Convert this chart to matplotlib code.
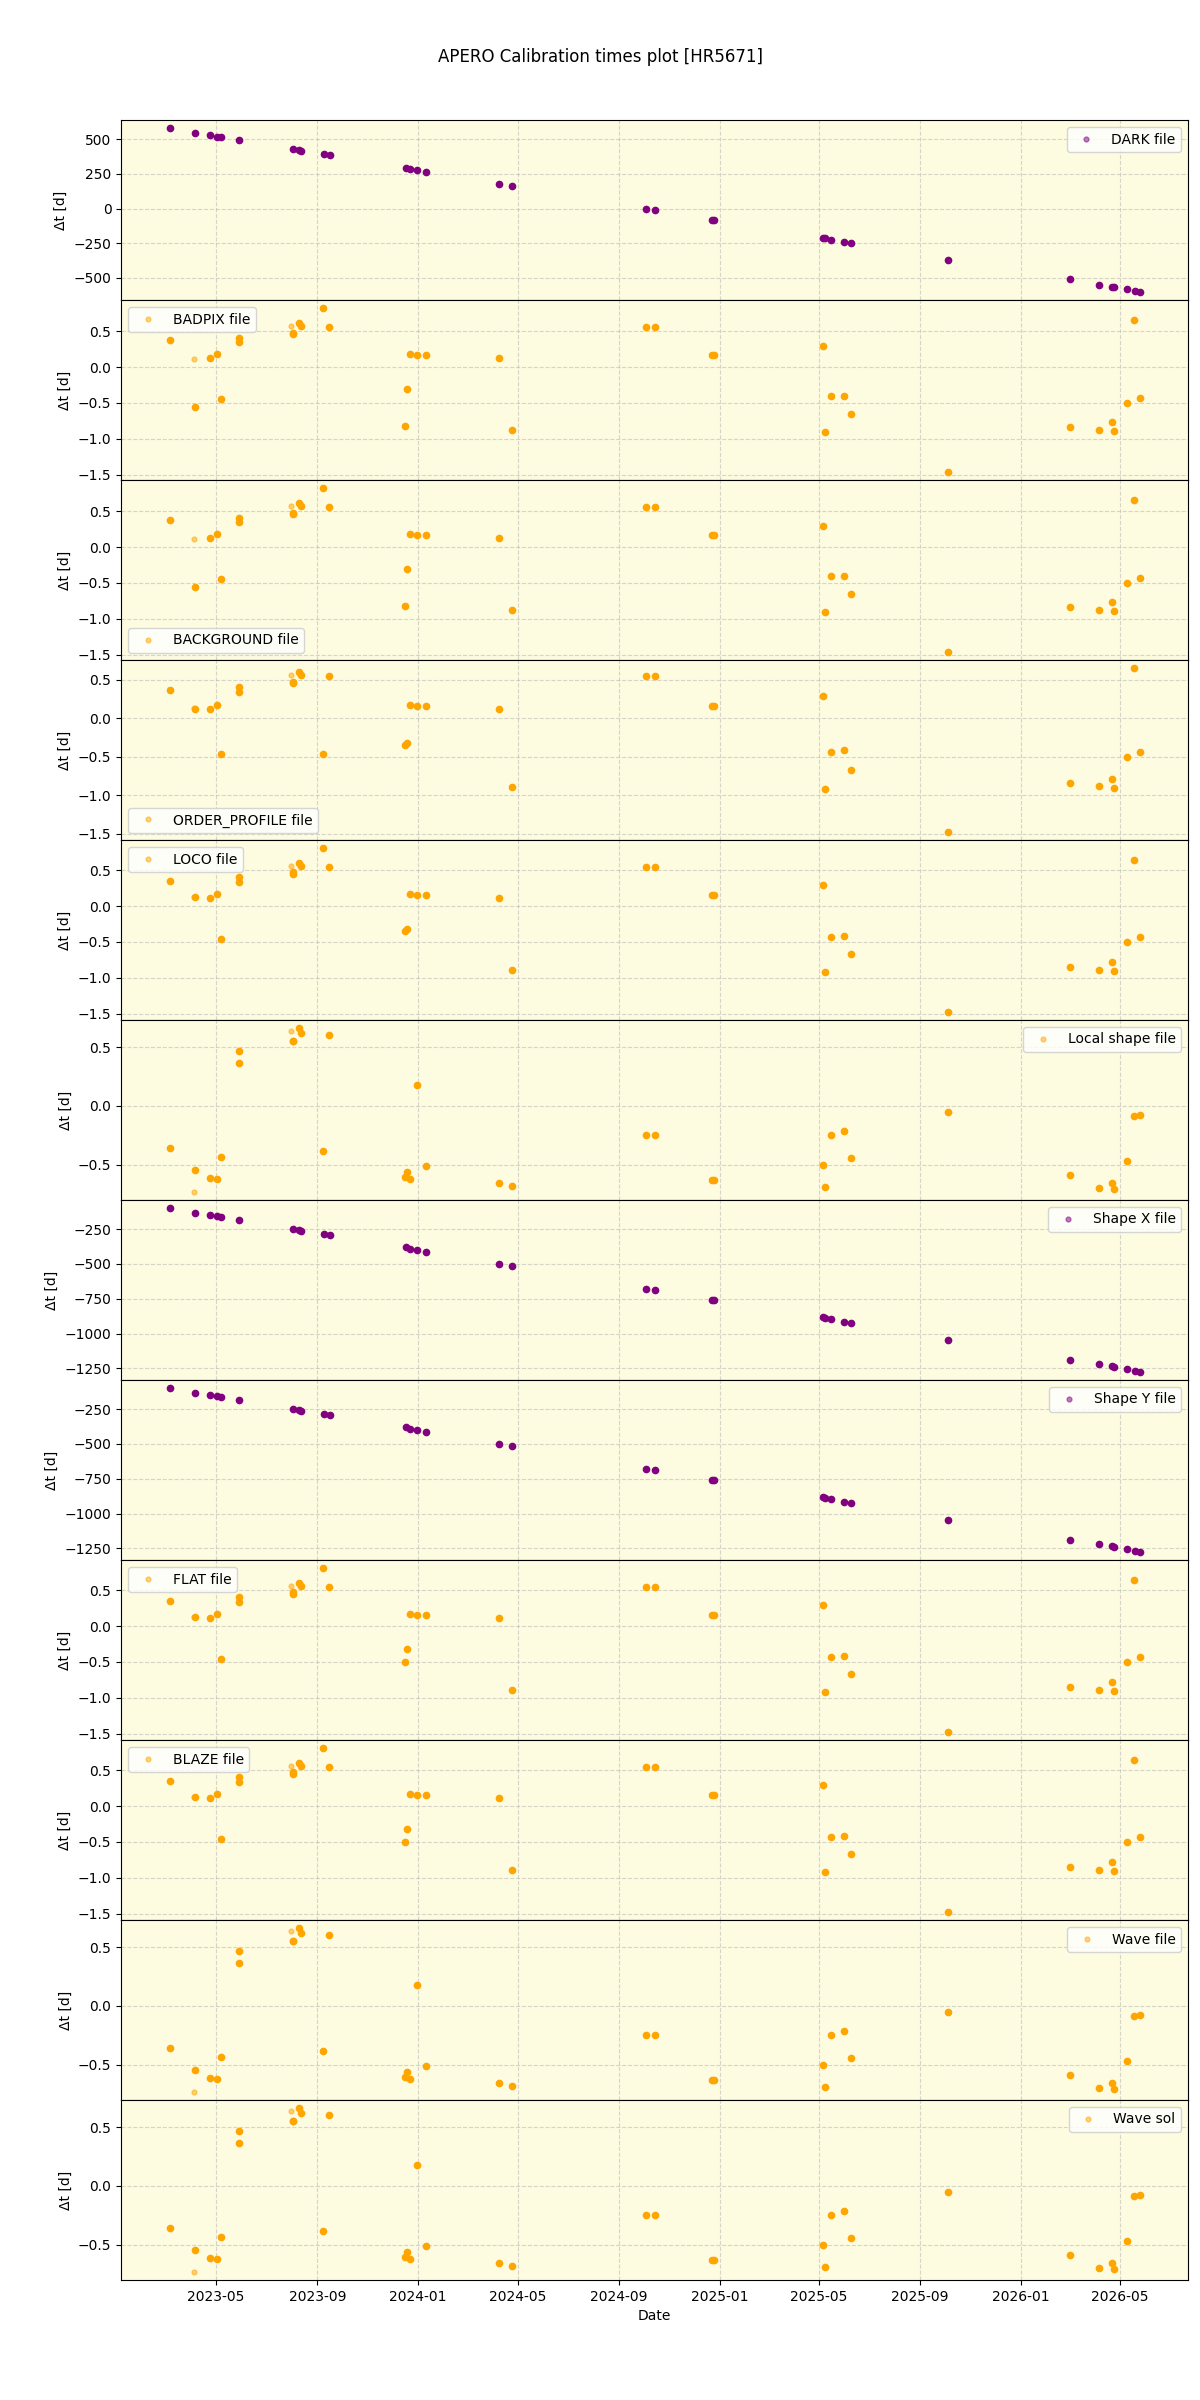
import matplotlib

matplotlib.use("Agg")
import matplotlib.dates as mdates
import matplotlib.pyplot as plt
import pandas as pd
from matplotlib.lines import Line2D

# fechas de las observaciones (paneles naranjas)
fechas_orange = [
    "2023-03-06", "2023-04-06", "2023-04-24", "2023-05-02", "2023-05-07",
    "2023-05-29", "2023-05-29", "2023-08-02", "2023-08-02", "2023-08-10",
    "2023-08-12", "2023-09-08", "2023-09-15", "2023-12-16", "2023-12-19",
    "2023-12-23", "2023-12-31", "2024-01-11", "2024-04-08", "2024-04-24",
    "2024-10-03", "2024-10-15", "2024-12-22", "2024-12-25", "2025-05-06",
    "2025-05-09", "2025-05-16", "2025-06-01", "2025-06-09", "2025-10-05",
    "2026-03-02", "2026-04-06", "2026-04-22", "2026-04-24", "2026-05-10",
    "2026-05-18", "2026-05-25",
]
# puntos sueltos (mas claros)
fechas_claras = ["2023-04-04", "2023-07-31"]

# fechas de los paneles violetas
fechas_purple = [
    "2023-03-06", "2023-04-06", "2023-04-24", "2023-05-02", "2023-05-07",
    "2023-05-29", "2023-08-02", "2023-08-10", "2023-08-12", "2023-09-09",
    "2023-09-16", "2023-12-18", "2023-12-22", "2023-12-31", "2024-01-11",
    "2024-04-08", "2024-04-24", "2024-10-03", "2024-10-15", "2024-12-22",
    "2024-12-25", "2025-05-06", "2025-05-09", "2025-05-16", "2025-06-01",
    "2025-06-09", "2025-10-05", "2026-03-02", "2026-04-06", "2026-04-22",
    "2026-04-24", "2026-05-10", "2026-05-19", "2026-05-25",
]

dark_dt = [
    580, 544, 530, 520, 513, 494, 429, 424, 412, 396, 386, 293, 285, 278,
    264, 177, 163, 0, -10, -82, -82, -209, -215, -225, -240, -247, -369,
    -511, -549, -562, -568, -583, -592, -600,
]
shapex_dt = [
    -100, -133, -148, -155, -164, -186, -250, -255, -267, -283, -290, -381,
    -390, -398, -414, -500, -514, -679, -686, -757, -757, -881, -888, -898,
    -914, -921, -1043, -1186, -1221, -1233, -1243, -1257, -1267, -1274,
]
shapey_dt = [
    -100, -133, -148, -155, -164, -186, -250, -255, -267, -283, -290, -381,
    -390, -398, -414, -500, -514, -679, -686, -757, -757, -881, -888, -898,
    -914, -921, -1043, -1186, -1221, -1233, -1243, -1257, -1267, -1274,
]

badpix_dt = [
    0.37, -0.56, 0.125, 0.185, -0.45, 0.41, 0.35, 0.48, 0.46, 0.61, 0.565,
    0.82, 0.555, -0.815, -0.31, 0.18, 0.167, 0.167, 0.125, -0.875, 0.555,
    0.555, 0.162, 0.162, 0.30, -0.90, -0.41, -0.40, -0.65, -1.46, -0.83,
    -0.875, -0.77, -0.89, -0.495, 0.657, -0.425,
]
badpix_claros = [0.11, 0.57]
background_dt = list(badpix_dt)
background_claros = [0.11, 0.57]

order_dt = [
    0.363, 0.12, 0.112, 0.173, -0.467, 0.406, 0.337, 0.467, 0.454, 0.60,
    0.56, -0.467, 0.544, -0.345, -0.32, 0.164, 0.155, 0.155, 0.117, -0.894,
    0.544, 0.544, 0.151, 0.151, 0.285, -0.92, -0.44, -0.415, -0.67, -1.477,
    -0.842, -0.886, -0.79, -0.907, -0.505, 0.648, -0.436,
]
order_claros = [0.13, 0.557]

loco_dt = [
    0.356, 0.12, 0.106, 0.167, -0.463, 0.398, 0.333, 0.468, 0.44, 0.593,
    0.551, 0.806, 0.542, -0.343, -0.32, 0.167, 0.157, 0.157, 0.111, -0.889,
    0.542, 0.542, 0.153, 0.153, 0.287, -0.917, -0.43, -0.417, -0.667, -1.472,
    -0.843, -0.889, -0.782, -0.903, -0.5, 0.644, -0.43,
]
loco_claros = [0.13, 0.56]

flat_dt = [
    0.356, 0.12, 0.106, 0.167, -0.463, 0.398, 0.333, 0.468, 0.44, 0.593,
    0.551, 0.806, 0.542, -0.50, -0.324, 0.167, 0.157, 0.157, 0.111, -0.889,
    0.542, 0.542, 0.153, 0.153, 0.287, -0.917, -0.43, -0.417, -0.667, -1.472,
    -0.843, -0.889, -0.782, -0.903, -0.5, 0.644, -0.43,
]
flat_claros = [0.13, 0.56]
blaze_dt = list(flat_dt)
blaze_claros = [0.13, 0.56]

lshape_dt = [
    -0.356, -0.54, -0.61, -0.619, -0.43, 0.466, 0.364, 0.548, 0.555, 0.661,
    0.624, -0.384, 0.607, -0.60, -0.56, -0.624, 0.178, -0.506, -0.655, -0.68,
    -0.249, -0.246, -0.63, -0.63, -0.503, -0.692, -0.246, -0.215, -0.438,
    -0.054, -0.582, -0.698, -0.65, -0.706, -0.466, -0.085, -0.076,
]
lshape_claros = [-0.729, 0.636]
wavefile_dt = list(lshape_dt)
wavesol_dt = list(lshape_dt)

paneles = [
    ("DARK file", "purple", fechas_purple, dark_dt, None, "upper right"),
    ("BADPIX file", "orange", fechas_orange, badpix_dt, badpix_claros, "upper left"),
    ("BACKGROUND file", "orange", fechas_orange, background_dt, background_claros, "lower left"),
    ("ORDER_PROFILE file", "orange", fechas_orange, order_dt, order_claros, "lower left"),
    ("LOCO file", "orange", fechas_orange, loco_dt, loco_claros, "upper left"),
    ("Local shape file", "orange", fechas_orange, lshape_dt, lshape_claros, "upper right"),
    ("Shape X file", "purple", fechas_purple, shapex_dt, None, "upper right"),
    ("Shape Y file", "purple", fechas_purple, shapey_dt, None, "upper right"),
    ("FLAT file", "orange", fechas_orange, flat_dt, flat_claros, "upper left"),
    ("BLAZE file", "orange", fechas_orange, blaze_dt, blaze_claros, "upper left"),
    ("Wave file", "orange", fechas_orange, wavefile_dt, lshape_claros, "upper right"),
    ("Wave sol", "orange", fechas_orange, wavesol_dt, lshape_claros, "upper right"),
]

fig, axes = plt.subplots(len(paneles), 1, figsize=(12, 24), sharex=True)
fig.subplots_adjust(left=0.101, right=0.99, top=0.95, bottom=0.05, hspace=0)
fig.suptitle("APERO Calibration times plot [HR5671]", y=0.98, fontsize=12)

for ax, (nombre, color, fechas, valores, claros, loc) in zip(axes, paneles):
    ax.set_facecolor("#fdfbe0")
    ax.plot(pd.to_datetime(fechas), valores, "o", color=color, ms=4.5)
    if claros is not None:
        ax.plot(pd.to_datetime(fechas_claras), claros, "o", color=color, ms=3.5, alpha=0.5)
    proxy = Line2D([], [], ls="none", marker="o", color=color, ms=3.5, alpha=0.5)
    ax.legend([proxy], [nombre], loc=loc)
    ax.set_ylabel("Δt [d]")
    ax.grid(True, linestyle="--", alpha=0.5)

axes[-1].xaxis.set_major_locator(mdates.MonthLocator(bymonth=[1, 5, 9]))
axes[-1].xaxis.set_major_formatter(mdates.DateFormatter("%Y-%m"))
axes[-1].set_xlabel("Date")

fig.savefig("out.png", dpi=100)
